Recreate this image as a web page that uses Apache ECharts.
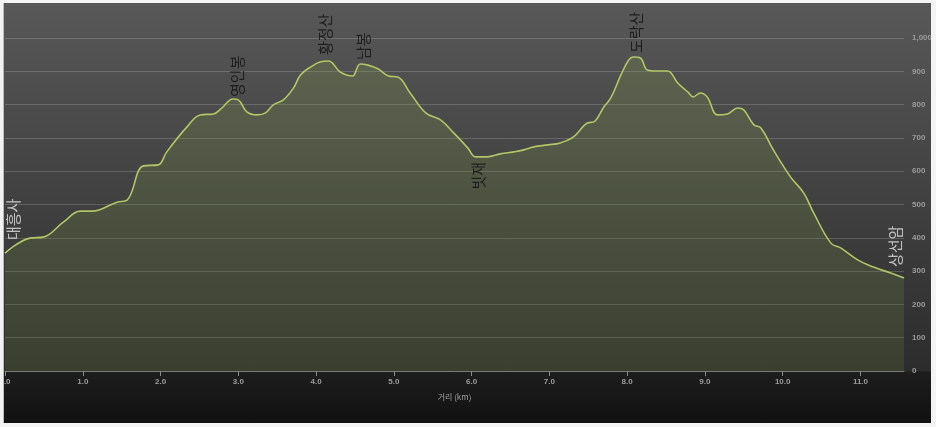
<!DOCTYPE html>
<html>
<head>
<meta charset="utf-8">
<script src="https://cdn.jsdelivr.net/npm/echarts@6/dist/echarts.min.js"></script>
<style>
html,body{margin:0;padding:0;background:#fff;}
#wrap{position:relative;width:936px;height:427px;overflow:hidden;}
#panel{position:absolute;left:4px;top:3px;width:927px;height:420px;
 background:linear-gradient(to bottom,#585858 0px,#2c2c2c 368px,#1d1d1d 369px,#111111 420px);}
#chart{position:absolute;left:0;top:0;width:936px;height:427px;}
#frame{position:absolute;left:0;top:0;width:936px;height:427px;box-sizing:border-box;pointer-events:none;
 border-left:4px solid #f2f2f2;border-top:3px solid #f4f4f4;border-right:5px solid #f4f4f4;border-bottom:4px solid #f4f4f4;}
#frame:after{content:"";position:absolute;left:-1px;top:0;width:1px;height:100%;background:#bbb;}
</style>
</head>
<body>
<div id="wrap">
<div id="panel"></div>
<div id="chart"></div>
<div id="frame"></div>
</div>
<script>
// Distance along trail (km)
const distKm = [0.00,0.32,0.49,0.75,0.97,1.12,1.44,1.57,1.78,1.97,2.08,2.34,2.51,2.68,2.79,2.93,3.00,3.11,3.24,3.35,3.45,3.58,3.71,3.80,3.93,4.05,4.16,4.31,4.47,4.49,4.57,4.66,4.80,4.93,5.05,5.21,5.41,5.60,5.77,5.95,6.05,6.20,6.37,6.54,6.67,6.80,6.98,7.14,7.31,7.49,7.57,7.70,7.79,7.92,8.02,8.08,8.17,8.26,8.39,8.52,8.65,8.78,8.85,8.94,9.03,9.16,9.29,9.42,9.50,9.63,9.72,9.88,10.10,10.27,10.40,10.62,10.75,10.97,11.17,11.39,11.56];
// Elevation (m)
const elevM = [354,399,402,447,480,480,507,513,616,619,658,733,769,772,790,817,814,778,769,775,799,814,850,889,913,928,931,898,886,889,922,919,907,886,883,835,775,754,715,670,643,643,652,658,664,673,679,685,703,745,748,793,820,889,934,943,940,904,901,901,865,838,823,835,823,769,772,790,784,739,730,664,583,535,474,384,369,333,312,294,279];

// Place-name annotations
const markerNames = ['대흥사','영인봉','황정산','남봉','빗재','도락산','상선암'];
const markerKm    = [0.00, 3.00, 4.16, 4.57, 6.10, 8.10, 11.39];
const markerElev  = [354, 814, 931, 922, 643, 943, 294];

// Axis ticks
const xTicks = [0,1,2,3,4,5,6,7,8,9,10,11];
const xMax = 11.56;
const yMax = 1000;

// screen-space label shifts [dx, dy] (converted to the rotated frame below)
const labelCfg = [
  {shift:[8,-13], align:'left', color:'#e2e2e2'},
  {shift:[-1,-3], align:'left', color:'#111'},
  {shift:[-3,-6], align:'left', color:'#111'},
  {shift:[3,-4], align:'left', color:'#111'},
  {shift:[-1,5], align:'right', color:'#111'},
  {shift:[1,-4], align:'left', color:'#111'},
  {shift:[5,-6], align:'left', color:'#e2e2e2'}
];

const chart = echarts.init(document.getElementById('chart'), null, {renderer:'canvas'});
const option = {
  backgroundColor:'transparent',
  animation:false,
  grid:{left:5,right:32,top:38,bottom:56,outerBoundsMode:'none',containLabel:false},
  xAxis:{
    type:'value', min:0, max:xMax, interval:1,
    name:'거리 (km)', nameLocation:'middle', nameGap:22,
    nameTextStyle:{color:'#a0a0a0', fontSize:8, fontFamily:'Noto Sans CJK KR'},
    axisLine:{show:true, lineStyle:{color:'#7a7a7a', width:1}},
    axisTick:{show:true, customValues:xTicks, length:5, lineStyle:{color:'#8a8a8a'}},
    axisLabel:{customValues:xTicks, margin:7, color:'#9c9c9c', fontSize:8, fontWeight:'bold', fontFamily:'Liberation Sans',
      formatter:v=>v.toFixed(1)},
    splitLine:{show:false}
  },
  yAxis:{
    type:'value', position:'right', min:0, max:yMax, interval:100,
    axisLine:{show:false}, axisTick:{show:false},
    axisLabel:{margin:8, align:'left', color:'#9c9c9c', fontSize:8, fontWeight:'bold', fontFamily:'Liberation Sans',
      formatter:v=>v.toLocaleString('en-US')},
    splitLine:{show:true, lineStyle:{color:'rgba(255,255,255,0.17)', width:1}}
  },
  series:[
    {
      type:'line', smooth:0.4, showSymbol:false, silent:true,
      data: distKm.map((d,i)=>[d, elevM[i]]),
      lineStyle:{color:'#b3c566', width:1.6},
      areaStyle:{color:new echarts.graphic.LinearGradient(0,0,0,1,[
        {offset:0,color:'rgba(128,152,72,0.36)'},
        {offset:1,color:'rgba(110,135,62,0.30)'}])}
    },
    {
      type:'scatter', silent:true, symbolSize:0, z:10, clip:false,
      data: markerNames.map((n,i)=>({
        name:n, value:[markerKm[i], markerElev[i]],
        label:{show:true, position:'inside', rotate:90, formatter:n,
          offset:[-labelCfg[i].shift[1], labelCfg[i].shift[0]],
          align:labelCfg[i].align, verticalAlign:'middle',
          color:labelCfg[i].color, fontSize:15, fontFamily:'Noto Sans CJK KR'}
      }))
    }
  ]
};
chart.setOption(option);
</script>
</body>
</html>
